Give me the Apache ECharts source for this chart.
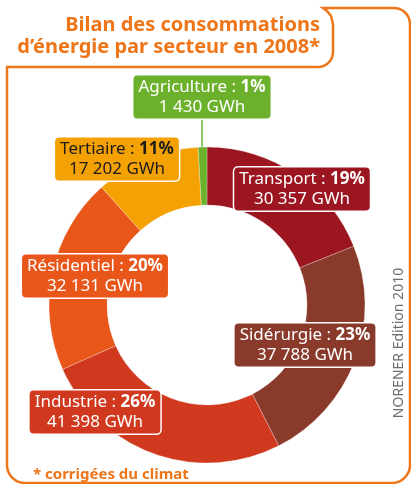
<!DOCTYPE html>
<html>
<head>
<meta charset="utf-8">
<script src="https://cdn.jsdelivr.net/npm/echarts@6/dist/echarts.min.js"></script>
<style>
html, body { margin: 0; padding: 0; background: #fff; }
#chart { width: 411px; height: 484px; }
</style>
</head>
<body>
<div id="chart"></div>
<script>
// consommations par secteur (GWh), ordre horaire depuis midi
var secteurs = ['Transport', 'Sidérurgie', 'Industrie', 'Résidentiel', 'Tertiaire', 'Agriculture'];
var consoGWh = [30357, 37788, 41398, 32131, 17202, 1430];

var couleurs = ['#9b1620', '#8a3a2b', '#d0391e', '#e8561a', '#f4a104', '#6cb12b'];
var couleursTexte = ['#fff', '#fff', '#fff', '#fff', '#1c1c1c', '#fff'];
// centre des étiquettes
var posEtiquettes = [[302, 189], [305, 345], [95, 412], [95, 276], [117, 159], [202, 97]];

var orange = '#ee7518';

function fmt(v) {
	return String(v).replace(/\B(?=(\d{3})+(?!\d))/g, ' ');
}

function arc(cx, cy, r, a0, a1) {
	var pts = [];
	for (var i = 0; i <= 10; i++) {
		var a = (a0 + (a1 - a0) * i / 10) * Math.PI / 180;
		pts.push([cx + r * Math.cos(a), cy + r * Math.sin(a)]);
	}
	return pts;
}

// cadre orange avec onglet du titre
var cadre = [[333, 24], [331, 16], [327, 11], [323, 8]]
	.concat(arc(394, 24, 16, -90, 0))
	.concat(arc(392, 465, 18, 0, 90))
	.concat(arc(25, 465, 18, 90, 180))
	.concat([[7, 67]])
	.concat(arc(318, 52, 15, 90, 0))
	.concat([[333, 24]]);

var donnees = secteurs.map(function (s, i) {
	var txt = { color: couleursTexte[i], fontSize: 17, fontFamily: 'Noto Sans', lineHeight: 20 };
	return {
		name: s,
		value: consoGWh[i],
		itemStyle: { color: couleurs[i] },
		label: {
			backgroundColor: couleurs[i],
			rich: {
				n: txt,
				b: Object.assign({}, txt, { fontWeight: 'bold' }),
				v: txt
			}
		},
		labelLine: { show: s === 'Agriculture', lineStyle: { color: couleurs[i], width: 1.5 } }
	};
});

var myChart = echarts.init(document.getElementById('chart'));
var option = {
	animation: false,
	graphic: [
		{
			type: 'polyline', silent: true, z: 0,
			shape: { points: cadre },
			style: { stroke: orange, lineWidth: 2.5, fill: null }
		},
		{
			type: 'text', x: 320, y: 14,
			style: {
				text: 'Bilan des consommations\nd’énergie par secteur en 2008*',
				align: 'right', verticalAlign: 'top',
				fill: orange, font: 'bold 20px "Noto Sans"', lineHeight: 22
			}
		},
		{
			type: 'text', x: 33, y: 475,
			style: {
				text: '* corrigées du climat',
				align: 'left', verticalAlign: 'middle',
				fill: orange, font: 'bold 15px "Noto Sans"'
			}
		},
		{
			type: 'text', x: 399, y: 343, rotation: Math.PI / 2,
			style: {
				text: 'NORENER Edition 2010',
				align: 'center', verticalAlign: 'middle',
				fill: '#6e6e6e', font: '14px "Noto Sans"'
			}
		}
	],
	series: [{
		type: 'pie',
		center: [207, 305],
		radius: [100, 158],
		startAngle: 90,
		clockwise: true,
		percentPrecision: 0,
		avoidLabelOverlap: false,
		itemStyle: { borderColor: 'rgba(255,255,255,0.45)', borderWidth: 0.6 },
		label: {
			position: 'outside',
			padding: [2, 5, 1, 5],
			borderColor: '#fff',
			borderWidth: 1.5,
			borderRadius: 4,
			formatter: function (p) {
				return '{n|' + p.name + ' : }{b|' + p.percent + '%}\n{v|' + fmt(p.value) + ' GWh}';
			}
		},
		labelLine: { show: false },
		labelLayout: function (p) {
			var pos = posEtiquettes[p.dataIndex];
			return { x: pos[0], y: pos[1], align: 'center', verticalAlign: 'middle' };
		},
		emphasis: { disabled: true },
		data: donnees
	}]
};
myChart.setOption(option);
</script>
</body>
</html>
